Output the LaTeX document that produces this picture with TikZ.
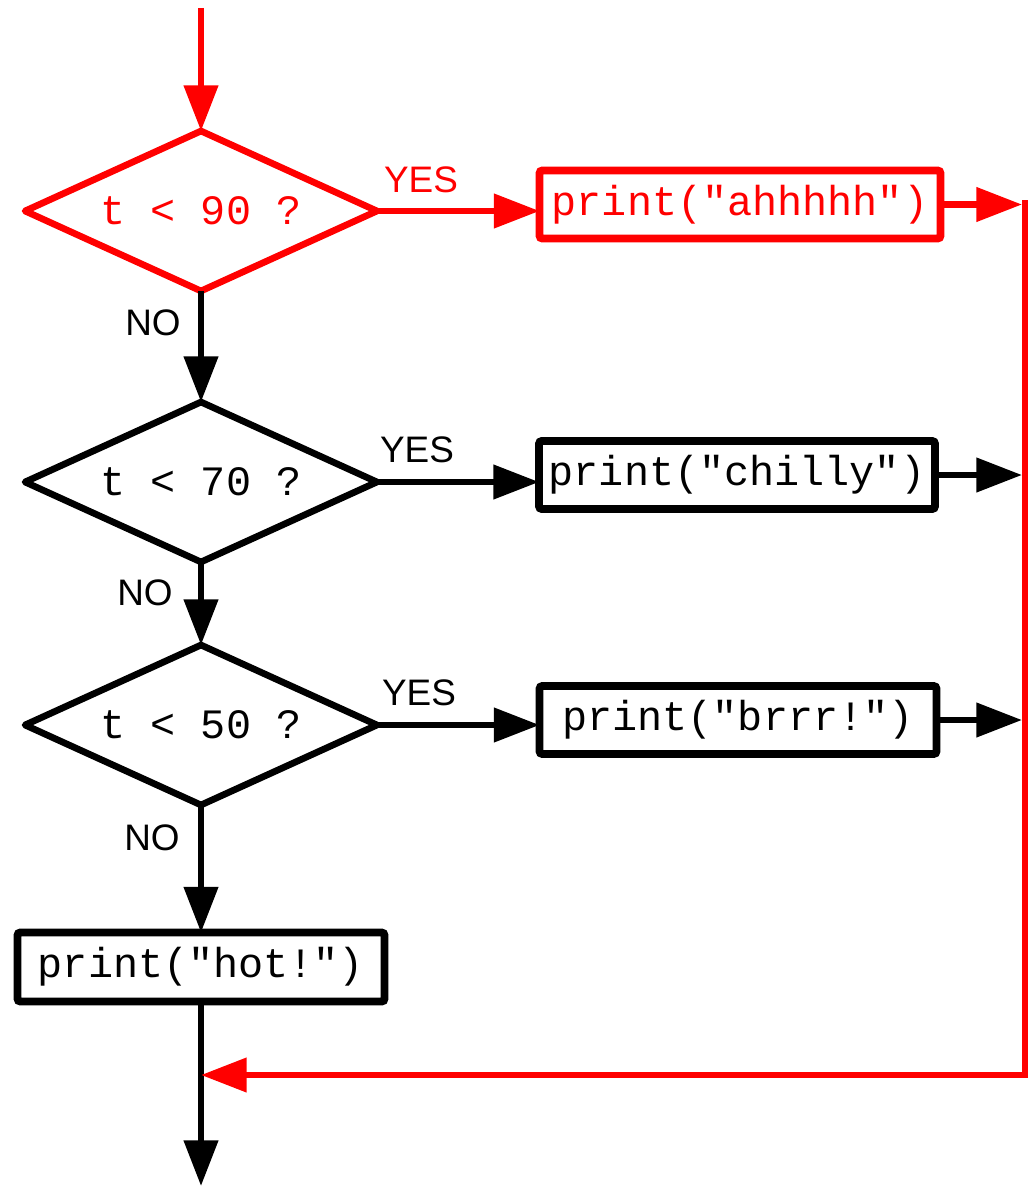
\documentclass[tikz,border=0pt]{standalone}
\usepackage{fontspec}
\setmainfont{Liberation Sans}
\newfontfamily\codefont{Liberation Mono}
\usetikzlibrary{shapes.geometric,arrows.meta}

\begin{document}
\begin{tikzpicture}[x=0.02cm,y=-0.02cm,
    test/.style={diamond,aspect=2.2,draw,line width=3.8pt,line join=round,inner sep=0pt,outer sep=0pt,
      minimum width=7.04cm,minimum height=3.2cm,font=\codefont\fontsize{23.8}{28}\selectfont},
    stmt/.style={rectangle,draw,line width=4.4pt,rounded corners=1.5pt,inner sep=0pt,outer sep=0pt,
      minimum height=1.36cm,font=\codefont\fontsize{23.8}{28}\selectfont},
    flow/.style={line width=3.6pt,-{Triangle[length=26pt,width=19pt]}},
    tag/.style={font=\fontsize{21}{25}\selectfont,inner sep=0pt}]
  \useasboundingbox (0,0) rectangle (1030,1186);
  % tests
  \node[test,red] (t90) at (201,211) {t < 90 ?};
  \node[test] (t70) at (201,482) {t < 70 ?};
  \node[test] (t50) at (201,725) {t < 50 ?};
  % statements
  \node[stmt,red,minimum width=8.02cm] (ahh) at (740,204.5) {print("ahhhhh")};
  \node[stmt,minimum width=7.92cm] (chilly) at (737,475) {print("chilly")};
  \node[stmt,minimum width=7.94cm] (brrr) at (738,720) {print("brrr!")};
  \node[stmt,minimum width=7.34cm,minimum height=1.38cm] (hot) at (201,967) {print("hot!")};
  % labels
  \node[tag,red] (yes1) at (421,180) {YES};
  \node[tag] (yes2) at (417,450) {YES};
  \node[tag] (yes3) at (419,693) {YES};
  \node[tag] (no1) at (153,323) {NO};
  \node[tag] (no2) at (145,593) {NO};
  \node[tag] (no3) at (152,838) {NO};
  % free ends
  \coordinate (in) at (201,8);
  \coordinate (j1) at (1022,204.5);
  \coordinate (j2) at (1022,475);
  \coordinate (j3) at (1022,720);
  \coordinate (top) at (1025,200);
  \coordinate (corner) at (1025,1075);
  \coordinate (merge) at (201,1075);
  \coordinate (out) at (201,1186);
  % connectors
  \draw[flow] (t90.south) -- (t70.north);
  \draw[flow] (t70.south) -- (t50.north);
  \draw[flow] (t50.south) -- (hot.north);
  \draw[flow] (hot.south) -- (out);
  \draw[flow] (t70.east) -- (t70.east -| chilly.west);
  \draw[flow] (t50.east) -- (t50.east -| brrr.west);
  \draw[flow] (chilly.east) -- (j2);
  \draw[flow] (brrr.east) -- (j3);
  \draw[flow,red] (in) -- (t90.north);
  \draw[flow,red] (t90.east) -- (t90.east -| ahh.west);
  \draw[flow,red] (ahh.east) -- (j1);
  \draw[flow,red] (top) -- (corner) -- (merge);
\end{tikzpicture}
\end{document}
